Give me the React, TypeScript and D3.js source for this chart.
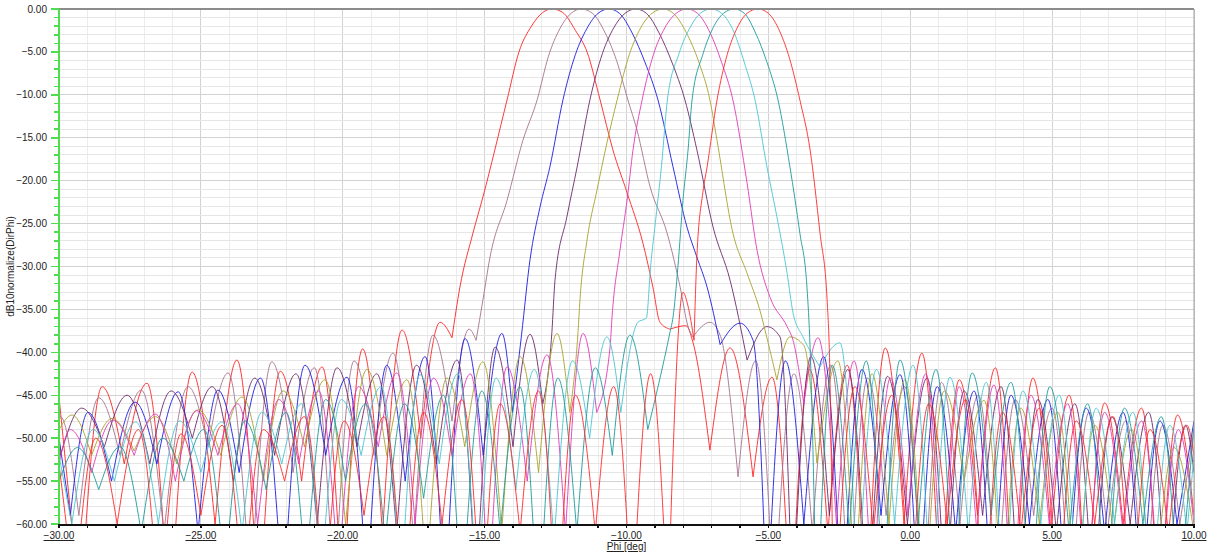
import React from 'react';
import * as d3 from 'd3';

// axis ticks
const phiTicks = [-30, -25, -20, -15, -10, -5, 0, 5, 10];
const dbTicks = [0, -5, -10, -15, -20, -25, -30, -35, -40, -45, -50, -55, -60];

// beam patterns, [phi deg, dB] (nulls below -60 are estimates, they fall off the axis)
const beamRed1 = [[-30.0,-45.2],[-29.25,-70],[-28.48,-44],[-27.7,-53],[-26.9,-43.6],[-26.1,-72],[-25.31,-42.3],[-24.5,-60],[-23.73,-40.9],[-22.95,-71],[-22.2,-42.2],[-21.45,-55],[-20.73,-41.7],[-20.0,-70],[-19.3,-39.6],[-18.6,-61],[-17.91,-37.4],[-17.25,-50],[-16.57,-36.5],[-16.15,-38.3],
  [-15.87,-32.4],[-15.41,-26.1],[-15.06,-21.9],[-14.21,-10.6],[-13.79,-5.0],[-13.35,-2.0],[-12.95,-0.4],[-12.63,0],[-12.25,-0.4],[-11.8,-2.5],[-11.39,-5.0],[-10.93,-10.6],[-10.48,-16.4],[-9.98,-21.4],[-9.42,-27.3],[-9.07,-32.4],[-8.82,-36.5],[-8.47,-37.3],[-7.9,-36.9],[-7.66,-38.8],
  [-7.06,-51.4],[-6.35,-39.5],[-5.54,-54.5],[-4.87,-42.9],[-4.2,-71],[-3.55,-42],[-2.9,-61],[-2.22,-41.5],[-1.55,-72],[-0.88,-39.5],[-0.22,-60],[0.41,-40.1],[1.07,-70],[1.73,-43.2],[2.37,-59],[3.0,-41.8],[3.66,-73],[4.32,-43],[4.96,-61],[5.6,-45],[6.22,-71],[6.85,-45.9],[7.5,-60],[8.15,-46.5],[8.78,-72],[9.42,-47.3],[10.0,-59]];

const beamMauve = [[-30.0,-48],[-29.95,-47.5],[-29.3,-59],[-28.6,-45.3],[-27.85,-52],[-27.1,-44.4],[-26.3,-61],[-25.45,-44],[-24.75,-51],[-24.04,-42.4],[-23.25,-68],[-22.5,-41.1],[-21.75,-54],[-21.0,-41.8],[-20.3,-69],[-19.6,-41],[-18.9,-52],[-18.23,-40.1],[-17.5,-62],[-16.82,-38],[-16.15,-48],[-15.55,-37.3],[-15.3,-38.6],
  [-15.06,-33.9],[-14.81,-28.9],[-14.21,-22.3],[-13.65,-15.3],[-13.15,-10.6],[-12.75,-5.5],[-12.35,-2.3],[-11.95,-0.5],[-11.6,0],[-11.2,-0.5],[-10.75,-2.8],[-10.35,-6],[-9.95,-10.6],[-9.63,-14.1],[-9.17,-20.7],[-8.57,-26.1],[-8.11,-32.4],[-7.83,-37],[-7.66,-38.2],[-7.06,-36.5],[-6.7,-38],
  [-6.07,-54.5],[-5.45,-41],[-4.8,-70],[-4.1,-42.5],[-3.45,-61],[-2.8,-41.5],[-2.15,-71],[-1.5,-43],[-0.85,-59],[-0.2,-44],[0.45,-72],[1.1,-43.5],[1.75,-60],[2.4,-45],[3.05,-70],[3.7,-45.5],[4.35,-59],[5.0,-46.5],[5.65,-71],[6.3,-47],[6.95,-61],[7.6,-48],[8.25,-72],[8.9,-48.5],[9.5,-60],[10.0,-49]];

const beamBlue = [[-30.0,-50],[-29.6,-59],[-28.98,-47],[-28.15,-55],[-27.32,-45.8],[-26.55,-53],[-25.8,-44.6],[-25.1,-61],[-24.4,-44.4],[-23.65,-54],[-22.9,-43],[-22.1,-69],[-21.33,-41.5],[-20.6,-52],[-19.85,-42.9],[-19.15,-68],[-18.45,-41.5],[-17.8,-55],[-17.1,-40.5],[-16.4,-70],[-15.69,-38.4],[-15.05,-52],[-14.39,-37.8],[-14.02,-47],
  [-13.7,-38],[-13.4,-29.2],[-13.05,-23.1],[-12.7,-18.4],[-12.24,-10.6],[-11.8,-5.3],[-11.4,-2.3],[-11.0,-0.5],[-10.62,0],[-10.25,-0.5],[-9.8,-2.8],[-9.35,-6.2],[-8.89,-10.6],[-8.36,-18.4],[-7.87,-25.4],[-7.52,-28.9],[-7.16,-32.4],[-6.7,-39.1],[-6.0,-36.6],[-5.54,-38.6],
  [-5.05,-70],[-4.4,-41],[-3.75,-60],[-3.05,-40.5],[-2.4,-71],[-1.7,-42],[-1.03,-59],[-0.36,-42.6],[0.3,-70],[0.95,-44],[1.6,-61],[2.25,-44.5],[2.9,-72],[3.55,-45],[4.2,-60],[4.85,-45.5],[5.5,-71],[6.2,-46.5],[6.85,-61],[7.5,-47],[8.15,-70],[8.8,-48],[9.4,-60],[10.0,-48]];

const beamPurple = [[-30.0,-50],[-29.95,-52],[-29.2,-46.5],[-28.4,-51],[-27.6,-45],[-26.8,-53],[-26.05,-44.5],[-25.3,-50],[-24.6,-44],[-23.85,-55],[-23.1,-43],[-22.4,-52],[-21.65,-42.5],[-20.9,-60],[-20.2,-41.8],[-19.5,-51],[-18.8,-42.5],[-18.1,-61],[-17.4,-41.5],[-16.7,-53],[-15.97,-40.9],[-15.3,-68],[-14.63,-39.4],[-14.0,-51],[-13.4,-37.9],[-12.95,-46],
  [-12.63,-37.7],[-12.52,-31.6],[-12.1,-24.2],[-11.74,-18.4],[-11.29,-10.6],[-10.85,-5.2],[-10.45,-2.2],[-10.05,-0.5],[-9.67,0],[-9.3,-0.5],[-8.85,-2.8],[-8.4,-6.2],[-7.94,-10.6],[-7.52,-16.4],[-6.95,-25.4],[-6.35,-31.6],[-5.75,-40.9],[-5.05,-37],[-4.59,-38.2],
  [-4.15,-70],[-3.5,-40.5],[-2.85,-59],[-2.2,-42],[-1.5,-71],[-0.8,-42.8],[-0.1,-60],[0.59,-43],[1.25,-70],[1.9,-44.5],[2.55,-59],[3.2,-44],[3.85,-72],[4.5,-45.5],[5.15,-61],[5.8,-46],[6.45,-70],[7.1,-47.5],[7.75,-60],[8.4,-47],[9.05,-71],[9.7,-48.5],[10.0,-54]];

const beamOlive = [[-30.0,-49],[-29.54,-47.3],[-28.85,-52],[-28.13,-47.7],[-27.35,-51.5],[-26.6,-47.5],[-25.85,-53],[-25.1,-46.7],[-24.3,-52],[-23.55,-45.2],[-22.8,-55],[-22.1,-44.5],[-21.35,-51],[-20.63,-43.2],[-19.9,-60],[-19.15,-42],[-18.45,-52],[-17.74,-43.2],[-17.05,-66],[-16.33,-43],[-15.7,-51],[-15.06,-41.1],[-14.4,-61],[-13.75,-40.5],[-13.1,-54],[-12.45,-37.8],[-12.0,-47],
  [-11.71,-37.7],[-11.64,-33.9],[-11.39,-26.9],[-11.04,-21.1],[-10.69,-15.6],[-10.33,-10.6],[-9.9,-5.3],[-9.5,-2.2],[-9.1,-0.5],[-8.71,0],[-8.35,-0.5],[-7.9,-2.7],[-7.45,-6.2],[-7.06,-10.6],[-6.81,-15.3],[-6.25,-26.1],[-5.75,-30.8],[-5.3,-35.1],[-5.0,-39],[-4.7,-43.2],[-4.24,-38.2],[-3.75,-39.2],
  [-3.29,-52.9],[-2.55,-41],[-1.95,-68],[-1.35,-42.5],[-0.75,-60],[-0.19,-43.2],[0.5,-71],[1.2,-44.5],[1.9,-55],[2.6,-45.6],[3.25,-70],[3.9,-46.5],[4.55,-60],[5.2,-47],[5.85,-72],[6.5,-48.5],[7.15,-61],[7.8,-49],[8.55,-71],[9.3,-51.1],[10.0,-61]];

const beamMagenta = [[-30.0,-53],[-29.6,-49],[-28.85,-54],[-28.1,-47.9],[-27.35,-52],[-26.6,-47.2],[-25.9,-55],[-25.15,-46.8],[-24.4,-52],[-23.7,-46],[-23.0,-60],[-22.25,-45.5],[-21.55,-53],[-20.85,-44.5],[-20.15,-66],[-19.45,-44],[-18.75,-51],[-18.09,-42.4],[-17.45,-60],[-16.8,-43],[-16.15,-52],[-15.5,-42.5],[-14.85,-68],[-14.21,-41.7],[-13.5,-55],[-12.8,-40.3],[-12.15,-61],[-11.53,-37.8],[-11.05,-47],
  [-10.58,-39.4],[-10.51,-35.9],[-10.23,-28.1],[-9.98,-22.3],[-9.77,-16.4],[-9.45,-10.6],[-9.05,-5.3],[-8.65,-2.2],[-8.25,-0.5],[-7.87,0],[-7.5,-0.5],[-7.05,-2.8],[-6.65,-6.2],[-6.25,-10.6],[-5.75,-20.3],[-5.4,-28.1],[-4.94,-33.6],[-4.34,-37.0],[-4.13,-38.6],[-3.75,-46],
  [-3.25,-38.3],[-2.6,-60],[-1.98,-41],[-1.33,-70],[-0.7,-43],[-0.08,-59],[0.55,-42.5],[1.15,-71],[1.72,-44],[2.35,-61],[2.95,-43.8],[3.6,-72],[4.25,-45],[4.9,-60],[5.55,-46],[6.2,-71],[6.85,-47],[7.5,-61],[8.15,-48],[8.8,-70],[9.45,-49],[10.0,-60]];

const beamCyan = [[-30.0,-52],[-29.55,-60],[-28.8,-49],[-28.05,-55],[-27.3,-48.1],[-26.5,-60],[-25.75,-48],[-25.0,-54],[-24.26,-48.1],[-23.55,-61],[-22.85,-47],[-22.15,-53],[-21.45,-46],[-20.75,-66],[-20.05,-45.5],[-19.35,-52],[-18.65,-44],[-17.95,-68],[-17.28,-42.6],[-16.6,-53],[-15.95,-42.5],[-15.25,-69],[-14.6,-43],[-13.9,-56],[-13.25,-42],[-12.55,-62],[-11.9,-41],[-11.3,-50],[-10.69,-38.2],[-10.2,-47],
  [-9.6,-36.5],[-9.3,-36.0],[-9.15,-30],[-8.96,-24.2],[-8.77,-18.4],[-8.56,-10.6],[-8.15,-5.2],[-7.75,-2.1],[-7.4,-0.5],[-7.02,0],[-6.65,-0.5],[-6.2,-2.8],[-5.85,-6.2],[-5.47,-10.6],[-5.05,-18.4],[-4.7,-24.2],[-4.34,-30.8],[-4.13,-35.4],[-3.78,-38.2],[-3.18,-41.7],
  [-2.48,-38.9],[-1.85,-68],[-1.19,-42],[-0.55,-60],[0.1,-41.5],[0.75,-71],[1.4,-42.9],[2.05,-61],[2.68,-43.5],[3.3,-72],[3.97,-44.5],[4.6,-60],[5.25,-45],[5.9,-70],[6.55,-46.5],[7.2,-60],[7.85,-47],[8.5,-71],[9.15,-48.5],[9.75,-61],[10.0,-52]];

const beamTeal = [[-30.0,-55],[-29.35,-51.1],[-28.6,-56],[-27.85,-51],[-27.1,-61],[-26.35,-50],[-25.6,-55],[-24.9,-49],[-24.15,-66],[-23.45,-48],[-22.7,-56],[-22.0,-47],[-21.3,-66],[-20.6,-45.5],[-19.9,-55],[-19.2,-46],[-18.5,-62],[-17.82,-46],[-17.15,-57],[-16.45,-45],[-15.8,-70],[-15.1,-44.5],[-14.45,-61],[-13.76,-44],[-13.1,-72],[-12.42,-43],[-11.75,-61],[-11.1,-41.8],[-10.5,-52],[-9.88,-38],[-9.25,-49],
  [-8.47,-37.7],[-8.36,-35.9],[-8.19,-30.1],[-8.01,-22.3],[-7.83,-16.4],[-7.69,-10.6],[-7.3,-5.2],[-6.95,-2.2],[-6.58,-0.5],[-6.21,0],[-5.85,-0.5],[-5.45,-2.8],[-5.05,-6.2],[-4.66,-10.6],[-4.24,-18.4],[-3.89,-26.1],[-3.64,-32.4],[-3.53,-39.4],
  [-3.3,-72],[-2.75,-41.5],[-2.15,-61],[-1.55,-41],[-0.95,-70],[-0.36,-40.9],[0.28,-60],[0.91,-42],[1.55,-71],[2.18,-42.4],[2.85,-59],[3.55,-43.5],[4.25,-72],[4.92,-44],[5.6,-61],[6.25,-46],[6.9,-71],[7.55,-46.5],[8.2,-60],[8.85,-47.5],[9.45,-70],[10.0,-48.5]];

const beamRed2 = [[-30.0,-53],[-29.45,-68],[-28.7,-50],[-27.95,-60],[-27.2,-49],[-26.45,-71],[-25.7,-49.5],[-25.0,-59],[-24.25,-48.5],[-23.5,-69],[-22.8,-49],[-22.05,-55],[-21.35,-47.5],[-20.65,-70],[-19.95,-48],[-19.25,-59],[-18.55,-47.5],[-17.85,-71],[-17.15,-47],[-16.5,-60],[-15.8,-45.5],[-15.1,-72],[-14.45,-46],[-13.75,-61],[-13.1,-44.5],[-12.45,-73],[-11.8,-45],[-11.1,-61],[-10.45,-44],[-9.8,-71],[-9.15,-42.5],[-8.54,-70],[-8.01,-33],[-7.84,-34.5],[-7.62,-38.6],
  [-7.52,-28.9],[-7.31,-21.4],[-7.16,-18.4],[-6.81,-10.6],[-6.45,-5.3],[-6.1,-2.2],[-5.75,-0.5],[-5.37,0],[-5.0,-0.5],[-4.6,-2.6],[-4.25,-5.8],[-3.89,-10.6],[-3.53,-16.4],[-3.18,-26.1],[-2.93,-33.9],[-2.85,-40],
  [-2.7,-73],[-1.95,-44],[-1.3,-61],[-0.65,-45],[0.0,-71],[0.65,-46],[1.3,-60],[1.95,-45.5],[2.6,-72],[3.25,-47],[3.9,-61],[4.55,-46.5],[5.2,-71],[5.85,-48],[6.5,-60],[7.15,-47.5],[7.8,-72],[8.45,-49],[9.1,-61],[9.75,-48.5],[10.0,-52]];

const beams = [
  { name: 'beam1', color: '#ff2424', pts: beamRed1 },
  { name: 'beam2', color: '#a5738f', pts: beamMauve },
  { name: 'beam3', color: '#1c1ce4', pts: beamBlue },
  { name: 'beam4', color: '#6c2a6c', pts: beamPurple },
  { name: 'beam5', color: '#a8a22c', pts: beamOlive },
  { name: 'beam6', color: '#e23ab6', pts: beamMagenta },
  { name: 'beam7', color: '#4ac4d2', pts: beamCyan },
  { name: 'beam8', color: '#1f9a9a', pts: beamTeal },
  { name: 'beam9', color: '#ff2a2a', pts: beamRed2 },
];

const W = 1210;
const H = 555;
const left = 59, right = 1194, top = 9, bottom = 524;

// split at local minima so nulls come out as cusps
function lobes(pts: number[][]) {
  const segs: number[][][] = [];
  let start = 0;
  for (let i = 1; i < pts.length - 1; i++) {
    if (pts[i][1] < pts[i - 1][1] && pts[i][1] < pts[i + 1][1]) {
      segs.push(pts.slice(start, i + 1));
      start = i;
    }
  }
  segs.push(pts.slice(start));
  return segs;
}

export default function App() {
  const x = d3.scaleLinear().domain([-30, 10]).range([left, right]);
  const y = d3.scaleLinear().domain([-60, 0]).range([bottom, top]);
  const fmt = d3.format('.2f');
  const line = d3.line<number[]>()
    .x(d => x(d[0]))
    .y(d => y(d[1]))
    .curve(d3.curveMonotoneX);

  const minorX = d3.range(-30, 11, 1);
  const minorY = d3.range(-60, 1, 1);
  const font = 'Liberation Sans, Arial, sans-serif';

  return (
    <svg width={W} height={H} style={{ position: 'absolute', left: 0, top: 0, background: '#fff' }}>
      <defs>
        <clipPath id="plot">
          <rect x={left} y={top} width={right - left} height={bottom - top} />
        </clipPath>
      </defs>

      {/* grid */}
      <g shapeRendering="crispEdges">
        {minorX.map(v => (
          <line key={'gx' + v} x1={x(v)} x2={x(v)} y1={top} y2={bottom}
            stroke={v % 5 === 0 ? '#d2d2d2' : '#ececec'} strokeWidth={1} />
        ))}
        {minorY.map(v => (
          <line key={'gy' + v} x1={left} x2={right} y1={y(v)} y2={y(v)}
            stroke={v % 5 === 0 ? '#d2d2d2' : '#e6e6e6'} strokeWidth={1} />
        ))}
      </g>

      {/* curves */}
      <g clipPath="url(#plot)" fill="none">
        {beams.map(b => (
          <path key={b.name} d={lobes(b.pts).map(s => line(s)).join('')}
            stroke={b.color} strokeWidth={1} strokeOpacity={0.9} />
        ))}
      </g>

      {/* frame */}
      <line x1={left} x2={right} y1={top} y2={top} stroke="#8c8c8c" strokeWidth={2} />
      <line x1={right} x2={right} y1={top} y2={bottom} stroke="#a0a0a0" strokeWidth={1} />

      {/* y axis */}
      <g shapeRendering="crispEdges">
        {minorY.map(v => (
          <line key={'ty' + v} x1={v % 5 === 0 ? left - 8 : left - 5} x2={left} y1={y(v)} y2={y(v)}
            stroke="#4fdc4f" strokeWidth={1.5} />
        ))}
        <line x1={left} x2={left} y1={top} y2={bottom} stroke="#4fdc4f" strokeWidth={2} />
      </g>
      {dbTicks.map(v => (
        <text key={'ly' + v} x={47} y={y(v)} dy="0.35em" textAnchor="end"
          fontFamily={font} fontSize={10} fill="#222">{fmt(v)}</text>
      ))}
      <text transform={`translate(14,${(top + bottom) / 2}) rotate(-90)`} textAnchor="middle"
        fontFamily={font} fontSize={10} fill="#222">dB10normalize(DirPhi)</text>

      {/* x axis */}
      <g shapeRendering="crispEdges">
        {minorX.map(v => (
          <line key={'tx' + v} x1={x(v)} x2={x(v)} y1={bottom} y2={bottom + 4}
            stroke="#111" strokeWidth={1.5} />
        ))}
        <line x1={left - 1} x2={right + 1} y1={bottom + 0.5} y2={bottom + 0.5} stroke="#111" strokeWidth={2} />
      </g>
      {phiTicks.map(v => (
        <text key={'lx' + v} x={x(v)} y={539} textAnchor="middle" textDecoration="underline"
          fontFamily={font} fontSize={10} fill="#222">{fmt(v)}</text>
      ))}
      <text x={x(-10)} y={550} textAnchor="middle" textDecoration="underline"
        fontFamily={font} fontSize={10} fill="#222">Phi [deg]</text>
    </svg>
  );
}
